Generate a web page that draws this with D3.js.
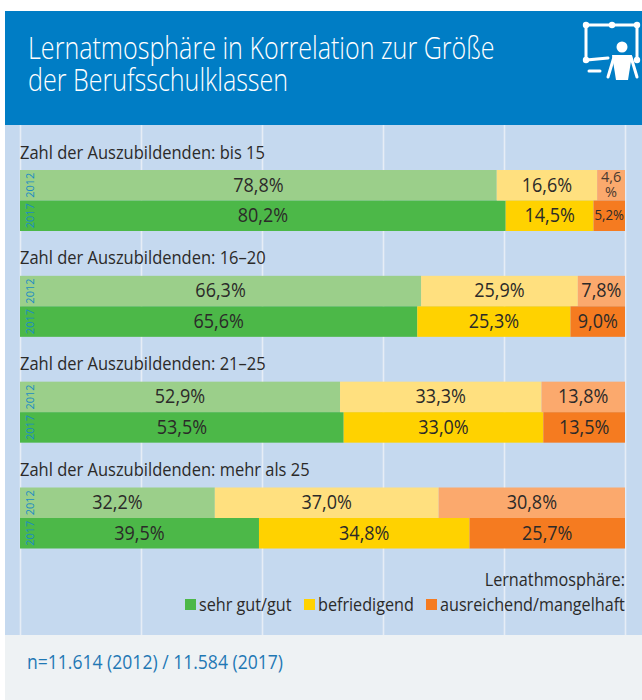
<!DOCTYPE html>
<html>
<head>
<meta charset="utf-8">
<script src="https://cdn.jsdelivr.net/npm/d3@7"></script>
<style>
  html, body { margin: 0; padding: 0; background: #fff; }
  svg { display: block; }
  text { font-family: "Open Sans", sans-serif; }
</style>
</head>
<body>
<div id="viz"></div>
<script>
var width = 642;
var height = 700;

var titleLines = ['Lernatmosphäre in Korrelation zur Größe', 'der Berufsschulklassen'];
var groups = ['bis 15', '16–20', '21–25', 'mehr als 25'];
var years = ['2012', '2017'];
var keys = ['sehr gut/gut', 'befriedigend', 'ausreichend/mangelhaft'];

var good2012 = [78.8, 66.3, 52.9, 32.2];
var okay2012 = [16.6, 25.9, 33.3, 37.0];
var poor2012 = [4.6, 7.8, 13.8, 30.8];
var good2017 = [80.2, 65.6, 53.5, 39.5];
var okay2017 = [14.5, 25.3, 33.0, 34.8];
var poor2017 = [5.2, 9.0, 13.5, 25.7];

var ticks = [0, 20, 40, 60, 80, 100];

var colors = {
  '2012': ['#9BCF8A', '#FFE07F', '#FBA96D'],
  '2017': ['#4CB848', '#FFD200', '#F57B20']
};

var rows = [];
groups.forEach(function (g, i) {
  rows.push({ group: g, index: i, year: '2012', a: good2012[i], b: okay2012[i], c: poor2012[i] });
  rows.push({ group: g, index: i, year: '2017', a: good2017[i], b: okay2017[i], c: poor2017[i] });
});

var svg = d3.select('#viz').append('svg')
  .attr('width', width)
  .attr('height', height);

// narrow text: Open Sans squeezed to look like the condensed face of the original
function label(parent, str, x, y, size, fill, anchor, squeeze) {
  return parent.append('text')
    .attr('transform', 'translate(' + x + ',' + y + ') scale(' + (squeeze || 0.86) + ',1)')
    .attr('text-anchor', anchor || 'start')
    .style('font-size', size + 'px')
    .style('fill', fill || '#2b2a29')
    .text(str);
}

// panels
svg.append('rect').attr('x', 5).attr('y', 125).attr('width', width - 5).attr('height', 510).attr('fill', '#C5D9EF');
svg.append('rect').attr('x', 5).attr('y', 635).attr('width', width - 5).attr('height', 65).attr('fill', '#EEF2F4');
svg.append('rect').attr('x', 5).attr('y', 11).attr('width', width - 5).attr('height', 114).attr('fill', '#007DC5');

var title = label(svg, '', 28, 59, 30.4, '#fff', 'start', 0.825).style('font-weight', 300);
titleLines.forEach(function (line, i) {
  title.append('tspan').attr('x', 0).attr('y', i * 32).text(line);
});

// icon
var icon = svg.append('g')
  .attr('fill', 'none')
  .attr('stroke', '#fff')
  .attr('stroke-width', 3)
  .attr('stroke-linecap', 'round');
icon.append('path').attr('d', 'M608,58 L586,60 L586,25 L637,25 L637,60');
icon.append('path').attr('d', 'M589,71 H600');
icon.append('path').attr('d', 'M614,57 L608,77 M631,57 L637,77');
[[586, 25], [612, 25], [637, 25], [586, 60], [637, 60]].forEach(function (p) {
  svg.append('circle').attr('cx', p[0]).attr('cy', p[1]).attr('r', 3.2).attr('fill', '#fff');
});
svg.append('circle').attr('cx', 622).attr('cy', 47).attr('r', 5.5).attr('fill', '#fff');
svg.append('path').attr('d', 'M612,55 H632 L628,80 H616 Z').attr('fill', '#fff');

// scales
var x = d3.scaleLinear().domain([0, 1]).range([20, 625]);
var groupY = d3.scalePoint().domain(groups).range([170, 487.5]);
var barH = d3.scaleBand().domain(years).range([0, 61]);

// vertical gridlines through the axis
var grid = svg.append('g')
  .attr('transform', 'translate(0,125)')
  .call(d3.axisBottom(x).tickValues(ticks.map(function (t) { return t / 100; })).tickSize(510).tickFormat(''));
grid.select('.domain').remove();
grid.selectAll('line').attr('stroke', '#E6EDF6').attr('stroke-width', 1.6);

var stack = d3.stack().keys(['a', 'b', 'c']).offset(d3.stackOffsetExpand);
var series = stack(rows);

var segs = svg.append('g').selectAll('g')
  .data(series).enter()
  .append('g')
  .selectAll('g')
  .data(function (s) {
    return s.map(function (d) {
      return { x0: d[0], x1: d[1], row: d.data, value: d.data[s.key], k: s.index };
    });
  }).enter()
  .append('g')
  .attr('transform', function (d) {
    return 'translate(0,' + (groupY(d.row.group) + barH(d.row.year)) + ')';
  });

segs.append('rect')
  .attr('x', function (d) { return x(d.x0); })
  .attr('width', function (d) { return x(d.x1) - x(d.x0); })
  .attr('height', barH.bandwidth())
  .attr('fill', function (d) { return colors[d.row.year][d.k]; });

segs.each(function (d) {
  var g = d3.select(this);
  var cx = (x(d.x0) + x(d.x1)) / 2;
  var str = d.value.toFixed(1).replace('.', ',');
  if (d.value < 5) {
    // too narrow, the percent sign drops to its own line
    var t = label(g, '', cx, 12, 14.5, '#4a3a30', 'middle', 1);
    t.append('tspan').attr('x', 0).attr('y', 0).text(str);
    t.append('tspan').attr('x', 0).attr('y', 15).text('%');
  } else if (d.value < 6) {
    label(g, str + '%', cx, 19, 15, '#2b2a29', 'middle', 0.885);
  } else {
    label(g, str + '%', cx, 21.5, 20, '#2b2a29', 'middle', 0.9);
  }
});

// year tags inside the bars
rows.forEach(function (r) {
  svg.append('text')
    .attr('transform', 'translate(34,' + (groupY(r.group) + barH(r.year) + barH.bandwidth() / 2) + ') rotate(-90)')
    .attr('text-anchor', 'middle')
    .style('font-size', '11px')
    .style('fill', '#1B8CC4')
    .text(r.year);
});

// group headings
groups.forEach(function (g) {
  label(svg, 'Zahl der Auszubildenden: ' + g, 20, groupY(g) - 11.5, 19, '#2b2a29', 'start', 0.868);
});

// legend
label(svg, 'Lernathmosphäre:', 625, 586, 19, '#2b2a29', 'end', 0.855);
var legendX = [185, 304, 426];
keys.forEach(function (k, i) {
  svg.append('rect')
    .attr('x', legendX[i]).attr('y', 599)
    .attr('width', 11).attr('height', 11)
    .attr('fill', colors['2017'][i]);
  label(svg, k, legendX[i] + 14, 610.5, 19, '#2b2a29', 'start', 0.852);
});

label(svg, 'n=11.614 (2012) / 11.584 (2017)', 27, 669, 19.5, '#1F78B4', 'start', 0.9);
</script>
</body>
</html>
